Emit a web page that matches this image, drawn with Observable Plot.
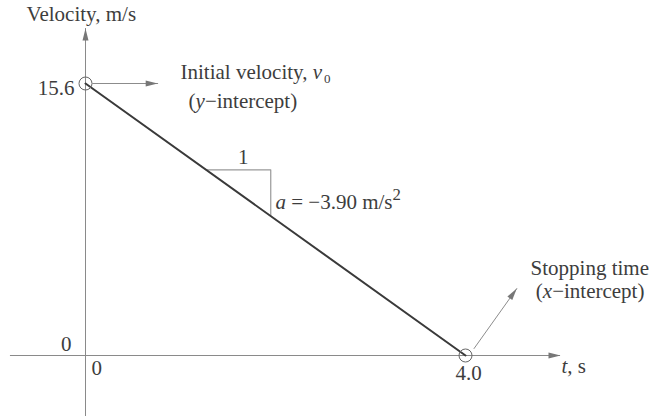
<!DOCTYPE html>
<html>
<head>
<meta charset="utf-8">
<script src="https://cdn.jsdelivr.net/npm/d3@7"></script>
<script src="https://cdn.jsdelivr.net/npm/@observablehq/plot@0.6"></script>
<style>
  html, body { margin: 0; padding: 0; background: #fff; }
  #chart { width: 660px; height: 416px; }
</style>
</head>
<body>
<div id="chart"></div>
<script>
// Velocity–time line of a uniformly decelerating body (t in s, v in m/s)
const lineT = [0, 4.0];
const lineV = [15.6, 0];

// Intercepts marked with open circles
const interceptT = [0, 4.0];
const interceptV = [15.6, 0];

// Extent of the drawn axes
const xAxisT = [-0.79, 5.0];
const yAxisV = [-3.5, 18.75];

// Tick labels
const yTickV = [15.6, 0];
const yTickLabels = ["15.6", "0"];
const xTickT = [0, 4.0];
const xTickLabels = ["0", "4.0"];

// Slope triangle (run of 1 s, rise of a)
const slopeT = [1.27, 1.95, 1.95];
const slopeV = [10.65, 10.65, 8.0];

// Pointer arrows
const v0ArrowT = [0.075, 0.76];
const v0ArrowV = [15.6, 15.6];
const stopArrowT = [4.09, 4.54];
const stopArrowV = [0.4, 3.84];

// Annotation text, placed at its left end (baseline)
const noteText = ["Velocity, m/s", "Initial velocity, v0", "(y−intercept)", "a = −3.90 m/s2", "Stopping time", "(x−intercept)", "t, s"];
const noteT = [-0.62, 1.0, 1.085, 2.0, 4.685, 4.74, 5.01];
const noteV = [19.17, 15.83, 14.22, 8.43, 4.59, 3.27, -0.98];
const runLabel = ["1"];
const runT = [1.66];
const runV = [11.01];

// Parts of labels that are set in italic, as subscripts or superscripts
const richText = new Map([
  ["Initial velocity, v0", [["Initial velocity, "], ["v", "i"], ["0", "sub"]]],
  ["(y−intercept)", [["("], ["y", "i"], ["−intercept)"]]],
  ["(x−intercept)", [["("], ["x", "i"], ["−intercept)"]]],
  ["a = −3.90 m/s2", [["a", "i"], [" = −3.90 m/s"], ["2", "sup"]]],
  ["t, s", [["t", "i"], [", s"]]]
]);

const xRange = [85, 465];
const yRange = [355, 83];
const pxPerT = (xRange[1] - xRange[0]) / (lineT[1] - lineT[0]);
const pxPerV = (yRange[0] - yRange[1]) / (lineV[0] - lineV[1]);

// Filled arrowhead pointing up, tip at the origin
const arrowHead = {
  draw(context) {
    context.moveTo(0, 0);
    context.lineTo(3, 12);
    context.lineTo(-3, 12);
    context.closePath();
  }
};
const headAngle = (t, v) => Math.atan2((t[1] - t[0]) * pxPerT, (v[1] - v[0]) * pxPerV) * 180 / Math.PI;

const font = "Liberation Serif, Times New Roman, serif";
const ink = "#3d3d3d";
const axisGray = "#8a8a8a";
const arrowGray = "#8c8c8c";
const textStyle = { lineAnchor: "bottom", fontSize: 21, fontFamily: font, fill: ink };

const idx = (a) => a.map((_, i) => i);

const plot = Plot.plot({
  width: 660,
  height: 416,
  margin: 0,
  x: { domain: [lineT[0], lineT[1]], range: xRange, axis: null },
  y: { domain: [lineV[1], lineV[0]], range: yRange, axis: null },
  style: { background: "#fff", fontFamily: font },
  marks: [
    // axes
    Plot.ruleY([0], { x1: xAxisT[0], x2: xAxisT[1], stroke: axisGray, strokeWidth: 1 }),
    Plot.ruleX([0], { y1: yAxisV[0], y2: yAxisV[1], stroke: axisGray, strokeWidth: 1 }),
    Plot.dot([0], { x: [xAxisT[1]], y: [0], symbol: arrowHead, rotate: 90, fill: "#777", stroke: "none", r: 5 }),
    Plot.dot([0], { x: [0], y: [yAxisV[1]], symbol: arrowHead, rotate: 0, fill: "#777", stroke: "none", r: 5 }),

    // slope triangle
    Plot.line(idx(slopeT), { x: slopeT, y: slopeV, stroke: "#999", strokeWidth: 1.2 }),

    // velocity line
    Plot.line(idx(lineT), { x: lineT, y: lineV, stroke: "#3a3a3a", strokeWidth: 2 }),

    // intercept circles
    Plot.dot(idx(interceptT), { x: interceptT, y: interceptV, r: 6.5, stroke: "#666", fill: "none", strokeWidth: 1 }),

    // pointer arrows
    Plot.line(idx(v0ArrowT), { x: v0ArrowT, y: v0ArrowV, stroke: arrowGray, strokeWidth: 1 }),
    Plot.dot([0], { x: [v0ArrowT[1]], y: [v0ArrowV[1]], symbol: arrowHead, rotate: headAngle(v0ArrowT, v0ArrowV), fill: "#777", stroke: "none", r: 5 }),
    Plot.line(idx(stopArrowT), { x: stopArrowT, y: stopArrowV, stroke: arrowGray, strokeWidth: 1 }),
    Plot.dot([0], { x: [stopArrowT[1]], y: [stopArrowV[1]], symbol: arrowHead, rotate: headAngle(stopArrowT, stopArrowV), fill: "#777", stroke: "none", r: 5 }),

    // tick labels on the v axis
    Plot.text([yTickLabels[0]], { x: [0], y: [yTickV[0]], text: (d) => d, dx: -11, dy: 11, textAnchor: "end", ...textStyle }),
    Plot.text([yTickLabels[1]], { x: [0], y: [yTickV[1]], text: (d) => d, dx: -14, dy: -5, textAnchor: "end", ...textStyle }),
    // tick labels on the t axis
    Plot.text([xTickLabels[0]], { x: [xTickT[0]], y: [0], text: (d) => d, dx: 6, dy: 19, textAnchor: "start", ...textStyle }),
    Plot.text([xTickLabels[1]], { x: [xTickT[1]], y: [0], text: (d) => d, dx: 3, dy: 24, textAnchor: "middle", ...textStyle }),

    // annotations
    Plot.text(noteText, { x: noteT, y: noteV, text: (d) => d, textAnchor: "start", ...textStyle }),
    Plot.text(runLabel, { x: runT, y: runV, text: (d) => d, textAnchor: "middle", ...textStyle })
  ]
});

// Set italic variables, subscripts and superscripts inside the labels
d3.select(plot).selectAll("text").each(function () {
  const parts = richText.get(this.textContent);
  if (!parts) return;
  const el = d3.select(this);
  el.text(null);
  for (const [s, kind] of parts) {
    const ts = el.append("tspan").text(s);
    if (kind === "i") ts.attr("font-style", "italic");
    if (kind === "sub") ts.attr("font-size", "0.62em").attr("dy", "0.3em").attr("dx", "0.15em");
    if (kind === "sup") ts.attr("font-size", "0.8em").attr("dy", "-0.5em");
  }
});

document.getElementById("chart").appendChild(plot);
</script>
</body>
</html>
